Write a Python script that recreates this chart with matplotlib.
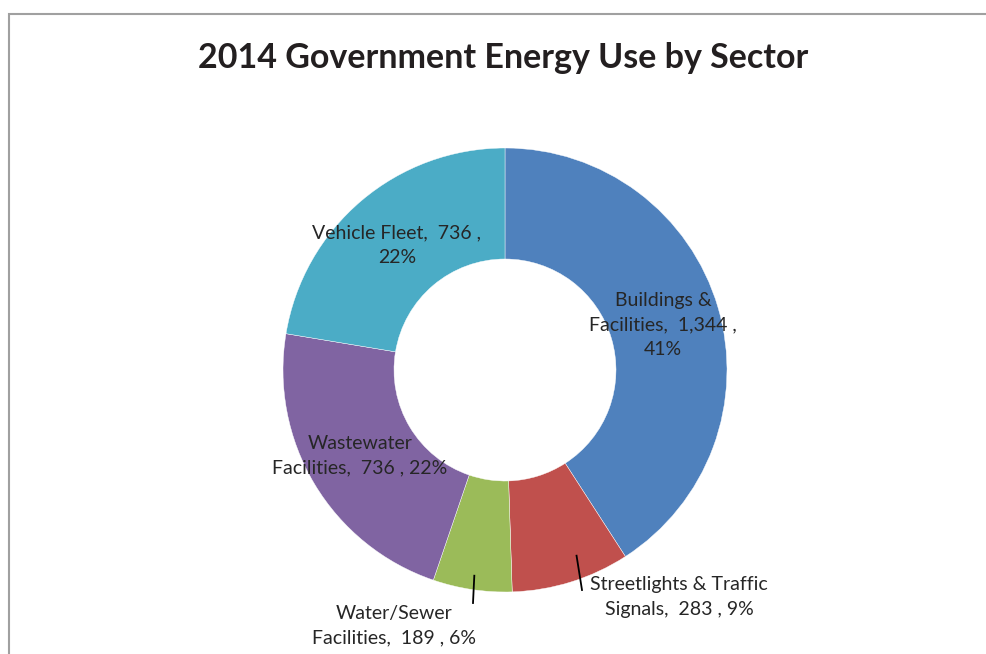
import numpy as np
import matplotlib
matplotlib.use("Agg")
import matplotlib.pyplot as plt
from matplotlib.patches import Rectangle

# ================= DATA =================
categories = ["Buildings &\nFacilities", "Streetlights & Traffic\nSignals",
              "Water/Sewer\nFacilities", "Wastewater\nFacilities", "Vehicle Fleet"]
energy_use = [1344, 283, 189, 736, 736]
# where the label breaks before the percentage
pct_breaks = ["\n", " ", " ", " ", "\n"]

colors = ["#4F81BD", "#C0504D", "#9BBB59", "#8064A2", "#4BACC6"]
TEXT_COLOR = "#262626"
FONT = "Lato"

# ================= LAYOUT (pixels) =================
W, H = 987, 654
CX, CY = 505, H - 370
R_OUT = 222
HOLE = 0.5
# label centres in pixel coords (from top-left)
label_pos = [(663, 325), (679, 597), (394, 626), (360, 456), (397, 245)]
# leader lines: (start radius, fraction across the wedge, end point)
leaders = {1: (199, 0.62, (582, 590)), 2: (208, 0.5, (473, 603))}

fig = plt.figure(figsize=(W / 100, H / 100), dpi=100)
ax = fig.add_axes([0, 0, 1, 1])

wedges, _ = ax.pie(energy_use, colors=colors, startangle=90, counterclock=False,
                   center=(CX, CY), radius=R_OUT, frame=True,
                   wedgeprops=dict(width=R_OUT * (1 - HOLE), edgecolor="white", linewidth=0.3))
ax.set_xlim(0, W)
ax.set_ylim(0, H)
ax.set_aspect("equal")
ax.set_axis_off()

total = sum(energy_use)
for i, (cat, v) in enumerate(zip(categories, energy_use)):
    pct = round(100 * v / total)
    txt = f"{cat},  {v:,} ,{pct_breaks[i]}{pct}%"
    x, y = label_pos[i]
    ax.text(x, H - y, txt, ha="center", va="center", fontsize=14, family=FONT,
            color=TEXT_COLOR, linespacing=1.55)

for i, (r0, frac, (ex, ey)) in leaders.items():
    w = wedges[i]
    ang = np.deg2rad(w.theta1 + frac * (w.theta2 - w.theta1))
    sx, sy = CX + r0 * np.cos(ang), CY + r0 * np.sin(ang)
    ax.plot([sx, ex], [sy, H - ey], color="black", lw=1.3)

fig.text(503 / W, 1 - 58 / H, "2014 Government Energy Use by Sector", ha="center", va="center",
         fontsize=24.5, fontweight="bold", family=FONT, color="#231F20")

# chart frame (right and bottom run off the image)
fig.patches.append(Rectangle((9, -20), 1100, H - 14 + 20, transform=None, fill=False,
                             edgecolor="#A0A0A0", linewidth=1.5))

fig.savefig("out.png", dpi=100, facecolor="white")
